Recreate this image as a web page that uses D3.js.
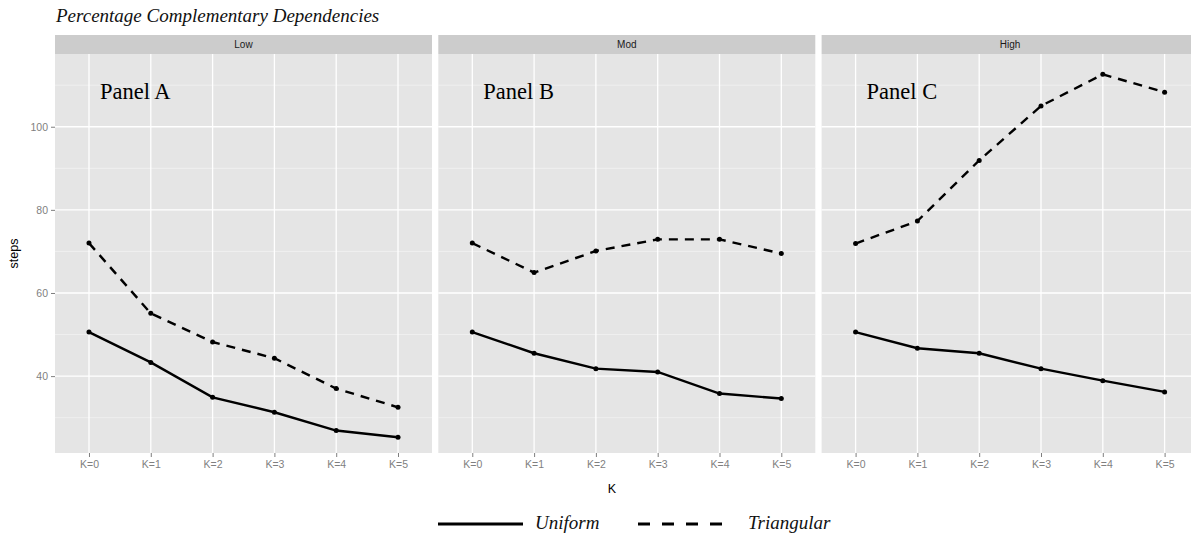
<!DOCTYPE html>
<html>
<head>
<meta charset="utf-8">
<script src="https://cdn.jsdelivr.net/npm/d3@7"></script>
<style>
  html, body { margin: 0; padding: 0; background: #ffffff; }
  svg { display: block; }
</style>
</head>
<body>
<svg id="chart" width="1191" height="535"></svg>
<script>
// ---------- data ----------
const categories = ["K=0", "K=1", "K=2", "K=3", "K=4", "K=5"];
const panels = ["Low", "Mod", "High"];
const panelLabels = ["Panel A", "Panel B", "Panel C"];
const uniformLow  = [50.6, 43.3, 34.9, 31.3, 26.9, 25.3];
const triangLow   = [72.0, 55.1, 48.2, 44.3, 37.0, 32.5];
const uniformMod  = [50.6, 45.5, 41.8, 41.0, 35.8, 34.6];
const triangMod   = [72.0, 64.9, 70.1, 72.9, 72.9, 69.5];
const uniformHigh = [50.6, 46.7, 45.5, 41.8, 38.9, 36.2];
const triangHigh  = [71.9, 77.3, 91.9, 105.0, 112.6, 108.3];
const yTicks = [40, 60, 80, 100];
const yMinor = [30, 50, 70, 90, 110];
const yDomain = [21.5, 117.5];
const seriesNames = ["Uniform", "Triangular"];
const titleText = "Percentage Complementary Dependencies";

const panelData = [
  [uniformLow, triangLow],
  [uniformMod, triangMod],
  [uniformHigh, triangHigh]
];

// ---------- layout ----------
const svg = d3.select("#chart");
const W = 1191, H = 535;
svg.append("rect").attr("width", W).attr("height", H).attr("fill", "#ffffff");

const plotTop = 54, plotBottom = 453;
const stripTop = 35;
const panelW = 377, panelGap = 6.3, firstLeft = 55;

const y = d3.scaleLinear().domain(yDomain).range([plotBottom, plotTop]);
const x = d3.scalePoint().domain(categories).range([0, panelW]).padding(0.55);

const sans = "'Liberation Sans', Arial, Helvetica, sans-serif";
const serif = "'Liberation Serif', 'Times New Roman', serif";

// title
svg.append("text")
  .attr("x", 56).attr("y", 22)
  .attr("font-family", serif).attr("font-style", "italic")
  .attr("font-size", 19).attr("fill", "#111")
  .text(titleText);

const dashes = ["none", "9,7"];

panels.forEach((p, i) => {
  const left = firstLeft + i * (panelW + panelGap);
  const g = svg.append("g").attr("transform", `translate(${left},0)`);

  // panel background
  g.append("rect").attr("x", 0).attr("y", plotTop)
    .attr("width", panelW).attr("height", plotBottom - plotTop)
    .attr("fill", "#e5e5e5");
  // strip
  g.append("rect").attr("x", 0).attr("y", stripTop)
    .attr("width", panelW).attr("height", plotTop - stripTop)
    .attr("fill", "#cccccc");
  g.append("text").attr("x", panelW / 2).attr("y", (stripTop + plotTop) / 2 + 3.5)
    .attr("text-anchor", "middle").attr("font-family", sans)
    .attr("font-size", 10).attr("fill", "#1a1a1a").text(p);

  // minor grid
  g.selectAll(".ymin").data(yMinor).enter().append("line")
    .attr("x1", 0).attr("x2", panelW)
    .attr("y1", d => y(d)).attr("y2", d => y(d))
    .attr("stroke", "#f2f2f2").attr("stroke-width", 0.8);
  // major grid
  g.selectAll(".ymaj").data(yTicks).enter().append("line")
    .attr("x1", 0).attr("x2", panelW)
    .attr("y1", d => y(d)).attr("y2", d => y(d))
    .attr("stroke", "#ffffff").attr("stroke-width", 1.3);
  g.selectAll(".xmaj").data(categories).enter().append("line")
    .attr("x1", d => x(d)).attr("x2", d => x(d))
    .attr("y1", plotTop).attr("y2", plotBottom)
    .attr("stroke", "#ffffff").attr("stroke-width", 1.3);

  // x axis
  const xa = g.append("g").attr("transform", `translate(0,${plotBottom})`)
    .call(d3.axisBottom(x).tickSize(4).tickPadding(4));
  xa.select(".domain").remove();
  xa.selectAll(".tick line").attr("stroke", "#7f7f7f");
  xa.selectAll(".tick text").attr("fill", "#7f7f7f")
    .attr("font-family", sans).attr("font-size", 10.5);

  // panel label
  g.append("text").attr("x", x(categories[0]) + 11).attr("y", 99)
    .attr("font-family", serif).attr("font-size", 22.5).attr("fill", "#000")
    .text(panelLabels[i]);

  // series
  const line = d3.line().x((d, j) => x(categories[j])).y(d => y(d));
  panelData[i].forEach((vals, s) => {
    g.append("path").datum(vals)
      .attr("d", line).attr("fill", "none")
      .attr("stroke", "#000").attr("stroke-width", 2.4)
      .attr("stroke-dasharray", dashes[s]);
    g.selectAll(".pt" + s).data(vals).enter().append("circle")
      .attr("cx", (d, j) => x(categories[j])).attr("cy", d => y(d))
      .attr("r", 2.5).attr("fill", "#000");
  });
});

// y axis (left of first panel)
const ya = svg.append("g").attr("transform", `translate(${firstLeft},0)`)
  .call(d3.axisLeft(y).tickValues(yTicks).tickSize(4).tickPadding(3));
ya.select(".domain").remove();
ya.selectAll(".tick line").attr("stroke", "#7f7f7f");
ya.selectAll(".tick text").attr("fill", "#7f7f7f")
  .attr("font-family", sans).attr("font-size", 10.5);

// axis titles
svg.append("text").attr("transform", `translate(18,${(plotTop + plotBottom) / 2}) rotate(-90)`)
  .attr("text-anchor", "middle").attr("font-family", sans)
  .attr("font-size", 12.5).attr("fill", "#000").text("steps");
svg.append("text").attr("x", 612).attr("y", 493)
  .attr("text-anchor", "middle").attr("font-family", sans)
  .attr("font-size", 12.5).attr("fill", "#000").text("K");

// legend
const legendX = [438, 638];
const legendTextX = [535, 748];
seriesNames.forEach((nm, s) => {
  svg.append("line")
    .attr("x1", legendX[s]).attr("x2", legendX[s] + 85)
    .attr("y1", 524).attr("y2", 524)
    .attr("stroke", "#000").attr("stroke-width", 3.2)
    .attr("stroke-dasharray", s === 0 ? "none" : "12,12");
  svg.append("text").attr("x", legendTextX[s]).attr("y", 529)
    .attr("font-family", serif).attr("font-style", "italic")
    .attr("font-size", 19).attr("fill", "#111").text(nm);
});
</script>
</body>
</html>
